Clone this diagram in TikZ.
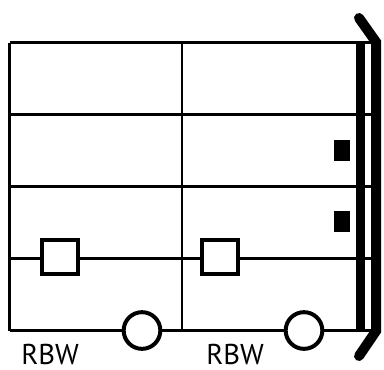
\documentclass[tikz,border=0pt]{standalone}
\usepackage{fontspec}
\setsansfont{PT Sans}

\begin{document}
\begin{tikzpicture}[
    x=0.75pt, y=-0.75pt,
    every node/.style={font=\sffamily},
    gridline/.style={line width=2pt},
    openbox/.style={draw, fill=white, line width=3pt, inner sep=0pt,
        minimum width=27pt, minimum height=26pt},
    ringmark/.style={circle, draw, fill=white, line width=3pt, inner sep=0pt,
        minimum size=27.5pt},
    solidmark/.style={fill=black, inner sep=0pt, minimum width=12pt,
        minimum height=15.5pt},
    tag/.style={anchor=base west, inner sep=0pt, font=\sffamily\fontsize{21.5}{21.5}\selectfont},
]
\useasboundingbox (0,0) rectangle (384,369);

% === staff geometry ===
\def\leftX{9.5}
\def\midX{182}
\def\endX{371}
\def\topY{42.5}
\def\botY{330.5}

% Horizontal lines
\foreach \yrow in {42.5, 114.5, 186.5, 258.5, 330.5} {
    \draw[gridline] (\leftX,\yrow) -- (\endX,\yrow);
}
% Left and middle verticals
\draw[gridline] (\leftX,\topY) -- (\leftX,\botY);
\draw[gridline] (\midX,\topY) -- (\midX,\botY);

% === end bars (thin + thick with bracket) ===
\fill (356,\topY) rectangle (365,\botY);
\draw[line width=7.5pt, line cap=round, line join=miter]
    (359,18) -- (376,42) -- (376,331) -- (359,356);

% === marks on the lines ===
\node[openbox] (sq1) at (60,257) {};
\node[openbox] (sq2) at (220,257) {};
\node[ringmark] (ring1) at (142,\botY) {};
\node[ringmark] (ring2) at (304,\botY) {};
\node[solidmark] (dot1) at (342,150.5) {};
\node[solidmark] (dot2) at (342,221.5) {};

% Labels
\node[tag] (lab1) at (21,364.5) {RBW};
\node[tag] (lab2) at (206,364.5) {RBW};

\end{tikzpicture}
\end{document}
